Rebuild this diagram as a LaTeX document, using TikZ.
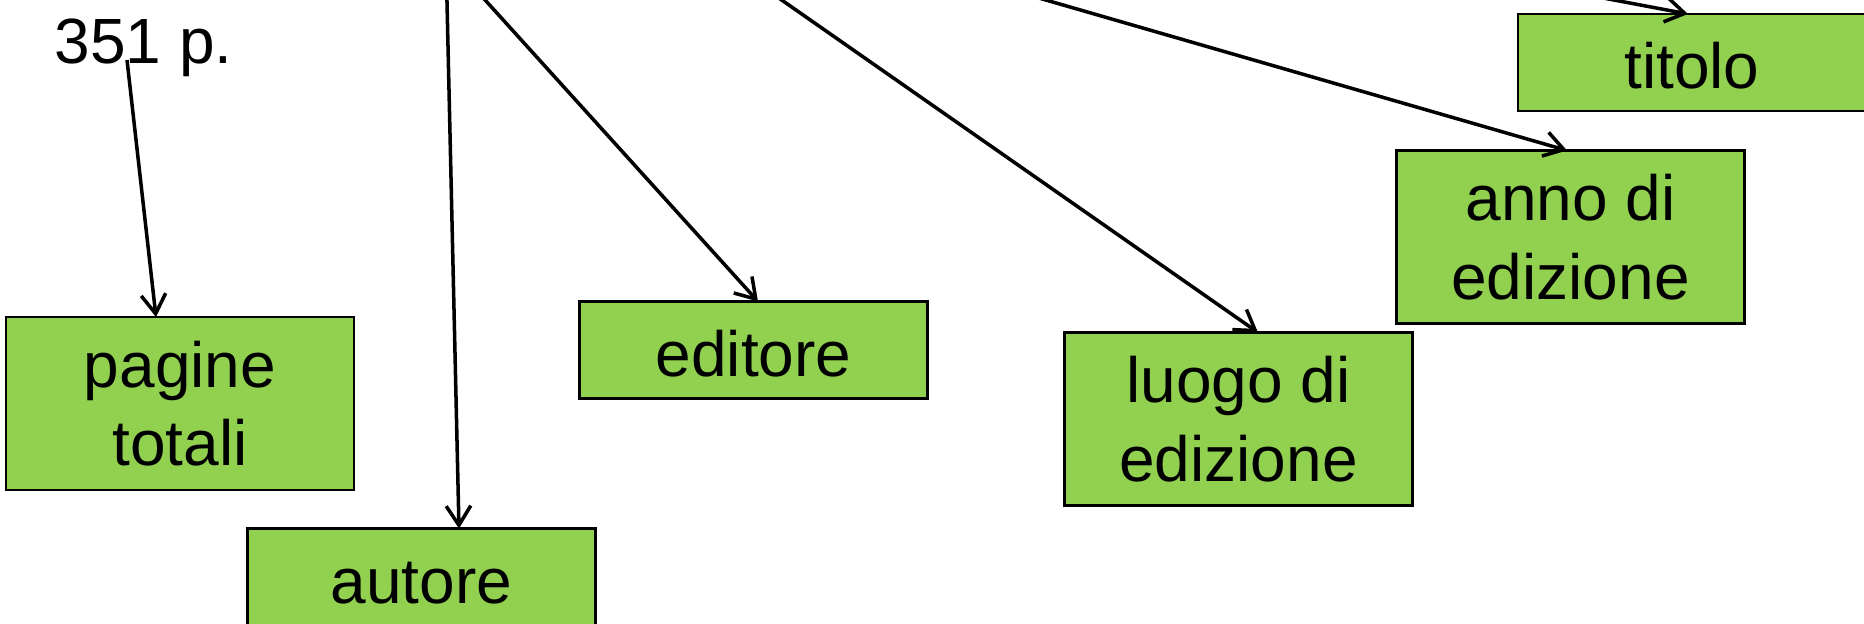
\documentclass[tikz,border=0pt]{standalone}
\usepackage{fontspec}
\setmainfont{Liberation Sans}
\usetikzlibrary{arrows.meta}
\definecolor{verde}{RGB}{146,208,80}
\tikzset{
	campo/.style={draw, fill=verde, line width=0.6pt, minimum width=3.48cm,
		inner sep=0pt, outer sep=0pt, align=center,
		execute at begin node={\rule{0pt}{0.53cm}}},
	riga/.style={campo, minimum height=0.97cm},
	doppia/.style={campo, minimum height=1.73cm}
}
\begin{document}
\begin{tikzpicture}[font=\fontsize{18.2}{22.3}\selectfont, >={Straight Barb[length=5.5pt,width=7pt]}, line width=1pt]
	\useasboundingbox (0,0) rectangle (18.64,-6.24);
	\clip (0,0) rectangle (18.64,-6.24);
	\node[anchor=base west, inner sep=0pt] (pag) at (0.53,-0.64) {351 p.};
	\node[doppia] (totali) at (1.80,-4.035) {pagine\\totali};
	\node[riga] (autore) at (4.215,-5.77) {autore};
	\node[riga] (editore) at (7.535,-3.50) {editore};
	\node[doppia] (luogo) at (12.385,-4.19) {luogo di\\edizione};
	\node[doppia] (anno) at (15.705,-2.37) {anno di\\edizione};
	\node[riga] (titolo) at (16.92,-0.625) {titolo};
	\coordinate (s-aut) at (4.465,0.20);
	\coordinate (s-edi) at (4.67,0.20);
	\coordinate (s-luo) at (7.53,0.20);
	\coordinate (s-anno) at (9.765,0.20);
	\coordinate (s-tit) at (15.08,0.20);
	\draw[->] ([shift={(0.74,0.04)}]pag.base west) -- ([xshift=-0.24cm]totali.north);
	\draw[->] (s-aut) -- ([xshift=0.375cm]autore.north);
	\draw[->] (s-edi) -- ([xshift=0.045cm]editore.north);
	\draw[->] (s-luo) -- ([xshift=0.195cm]luogo.north);
	\draw[->] (s-anno) -- ([xshift=-0.035cm]anno.north);
	\draw[->] (s-tit) -- ([xshift=-0.04cm]titolo.north);
\end{tikzpicture}
\end{document}
